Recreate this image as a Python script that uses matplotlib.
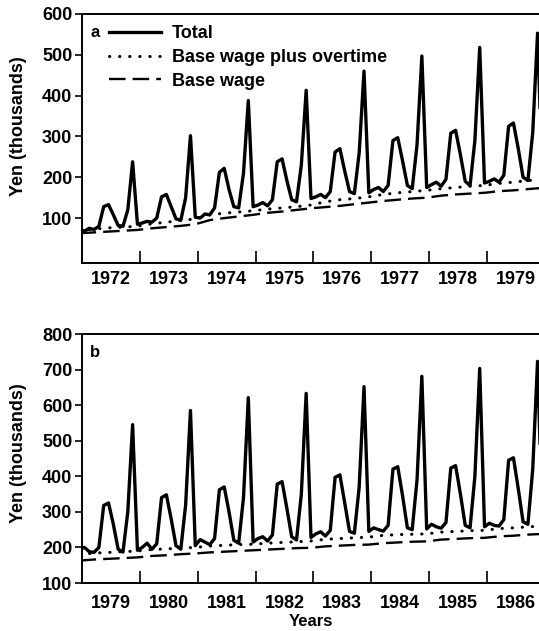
import numpy as np
import matplotlib.pyplot as plt

plt.rcParams['font.family'] = ['Liberation Sans', 'DejaVu Sans']
plt.rcParams['font.weight'] = 'bold'
plt.rcParams['axes.labelweight'] = 'bold'
plt.rcParams['font.size'] = 13

# monthly totals, Jan 1972 .. Jan 1980 (thousand yen)
total_a = [
    72, 68, 75, 72, 80, 128, 133, 108, 82, 80, 120, 238,      # 1972
    85, 88, 92, 90, 100, 152, 158, 128, 98, 95, 150, 302,     # 1973
    102, 100, 110, 108, 125, 212, 222, 170, 128, 125, 210, 388,  # 1974
    128, 132, 138, 130, 145, 238, 245, 192, 145, 140, 230, 413,  # 1975
    148, 152, 158, 150, 165, 262, 270, 215, 165, 160, 260, 460,  # 1976
    162, 170, 175, 165, 180, 290, 297, 240, 180, 172, 280, 497,  # 1977
    175, 182, 188, 178, 195, 308, 315, 255, 190, 180, 290, 518,  # 1978
    186, 190, 196, 188, 205, 325, 333, 270, 200, 192, 310, 553,  # 1979
    195,
]
# quarterly (Jan, Apr, Jul, Oct), 1972 .. Jan 1980
overtime_a = [70, 73, 76, 78, 80, 86, 90, 94, 98, 108, 112, 115,
              118, 122, 125, 128, 132, 140, 145, 148, 152, 158, 162, 165,
              168, 172, 175, 178, 180, 185, 188, 192, 195]
base_a = [63, 65, 67, 69, 71, 75, 78, 81, 85, 95, 100, 104,
          108, 113, 116, 120, 124, 127, 130, 134, 138, 142, 145, 148,
          150, 155, 158, 160, 162, 166, 168, 171, 174]

# monthly totals, Jan 1979 .. Jan 1987
total_b = [
    195, 200, 188, 186, 200, 318, 325, 265, 195, 187, 300, 545,  # 1979
    192, 200, 212, 195, 210, 340, 348, 280, 205, 195, 320, 585,  # 1980
    205, 222, 215, 208, 225, 362, 370, 300, 220, 212, 340, 621,  # 1981
    215, 225, 230, 218, 235, 378, 385, 310, 230, 221, 350, 633,  # 1982
    228, 238, 244, 232, 248, 397, 404, 325, 245, 240, 370, 652,  # 1983
    245, 255, 250, 246, 262, 420, 427, 345, 255, 250, 390, 681,  # 1984
    252, 265, 258, 254, 270, 423, 430, 350, 262, 255, 400, 703,  # 1985
    258, 268, 262, 260, 278, 445, 452, 365, 272, 265, 420, 723,  # 1986
    270,
]
overtime_b = [180, 184, 186, 188, 190, 194, 196, 198, 200, 204, 206, 208,
              209, 212, 214, 216, 218, 223, 225, 227, 229, 234, 236, 237,
              238, 243, 245, 247, 248, 253, 255, 258, 260]
base_b = [163, 166, 168, 170, 172, 176, 178, 181, 183, 186, 188, 190,
          192, 194, 196, 198, 199, 203, 205, 207, 208, 212, 214, 216,
          217, 222, 224, 226, 227, 231, 233, 236, 238]

years_a = list(range(1972, 1980))
years_b = list(range(1979, 1987))

fig = plt.figure(figsize=(5.39, 6.31), dpi=100)
ax1 = fig.add_axes([82 / 539, 1 - 263 / 631, 457 / 539, 249 / 631])
ax2 = fig.add_axes([82 / 539, 1 - 583 / 631, 457 / 539, 249 / 631])


def panel(ax, start, total, overtime, base, years, ylim, yticks, letter, pad):
    tm = start - 1 / 24 + np.arange(len(total)) / 12
    tq = start - 1 / 24 + np.arange(len(base)) * 0.25
    ax.plot(tq, base, color='black', lw=1.7, ls=(0, (7, 3)), label='Base wage')
    ax.plot(tq, overtime, color='black', lw=2.2, ls=(0, (0.1, 3.2)),
            dash_capstyle='round', label='Base wage plus overtime')
    ax.plot(tm, total, color='black', lw=2.4, label='Total', zorder=3)
    ax.set_xlim(start, start + 7.90)
    ax.set_ylim(*ylim)
    ax.set_yticks(yticks)
    ax.set_xticks(years[1:])
    ax.set_xticklabels([])
    ax.set_xticks([y + 0.5 for y in years], minor=True)
    ax.set_xticklabels([str(y) for y in years], minor=True)
    ax.tick_params(axis='x', which='major', direction='in', length=9, width=1.2)
    ax.tick_params(axis='x', which='minor', length=0, pad=pad)
    ax.tick_params(axis='y', direction='out', length=5, width=1.2, pad=2)
    ax.spines['right'].set_visible(False)
    for s in ['left', 'bottom', 'top']:
        ax.spines[s].set_linewidth(1.4)
    ax.text(0.028, 0.926, letter, transform=ax.transAxes, ha='center',
            va='center', fontsize=12)


panel(ax1, 1972, total_a, overtime_a, base_a, years_a, (-10, 600),
      range(100, 601, 100), 'a', 6)
panel(ax2, 1979, total_b, overtime_b, base_b, years_b, (100, 800),
      range(100, 801, 100), 'b', 9)

h, l = ax1.get_legend_handles_labels()
ax1.legend(h[::-1], l[::-1], loc='upper left', bbox_to_anchor=(0.058, 0.955),
           frameon=False, borderpad=0, handlelength=2.9, handletextpad=0.6,
           labelspacing=0.37, borderaxespad=0)

ax1.set_ylabel('Yen (thousands)')
ax1.yaxis.set_label_coords(-0.12, 0.55)
ax2.set_ylabel('Yen (thousands)')
ax2.yaxis.set_label_coords(-0.12, 0.52)
ax2.set_xlabel('Years', fontsize=12)
ax2.xaxis.label.set_va('center')
ax2.xaxis.set_label_coords(0.5, -0.153)

fig.savefig('out.png', dpi=100)
